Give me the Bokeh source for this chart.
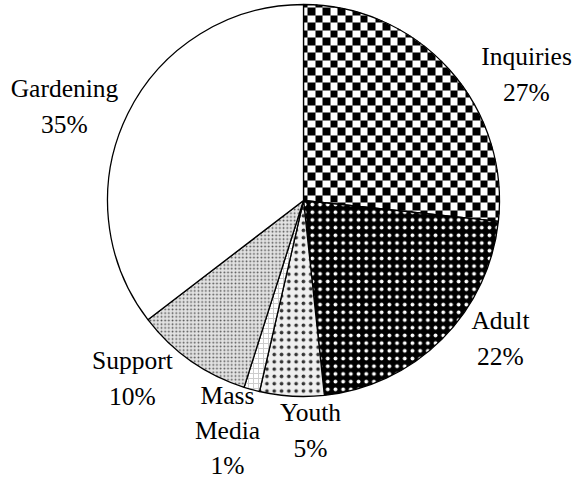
import math
import numpy as np
from bokeh.plotting import figure
from bokeh.models import Range1d, ColumnDataSource
from bokeh.core.properties import value
from bokeh.embed import file_html
from bokeh.resources import INLINE

# ---- data ----
categories = ["Inquiries", "Adult", "Youth", "Mass\nMedia", "Support", "Gardening"]
shares = [26.7, 21.6, 5.3, 1.3, 9.7, 35.4]

# ---- layout / style ----
W, H = 577, 481
CX, CY, R = 303, 281, 196          # data units == pixels (y measured up from bottom)
label_pos = [(526, 407), (500, 143), (310, 51), (227, 51), (132, 103), (64, 375)]
CHECK = 7.5                         # checker square size (px)

styles = [
    dict(fill_color=None),  # checkerboard drawn as image underneath
    dict(fill_color="black", hatch_pattern="dot", hatch_scale=7.7, hatch_color="white", hatch_weight=0.6),
    dict(fill_color="#efefef", hatch_pattern="dot", hatch_scale=7.3, hatch_color="#333333", hatch_weight=0.5),
    dict(fill_color="white", hatch_pattern="cross", hatch_scale=5, hatch_color="#cccccc", hatch_weight=1.0),
    dict(fill_color="#e2e2e2", hatch_pattern="dot", hatch_scale=3.7, hatch_color="#555555", hatch_weight=0.8),
    dict(fill_color="white"),
]

p = figure(width=W, height=H, output_backend="svg", toolbar_location=None,
           x_range=Range1d(0, W), y_range=Range1d(0, H),
           min_border=0, outline_line_color=None)
p.axis.visible = False
p.grid.visible = False
p.background_fill_color = "white"
p.border_fill_color = "white"

total = sum(shares)
angles = []
cum = 0.0
for v in shares:
    a0 = math.pi / 2 - 2 * math.pi * cum / total
    cum += v
    a1 = math.pi / 2 - 2 * math.pi * cum / total
    angles.append((a0, a1))

# checkerboard texture for the first slice, rendered as an RGBA image clipped to the wedge
a0, a1 = angles[0]
x0, y0 = CX - R, CY - R
n = 2 * R
xs = x0 + np.arange(n) + 0.5
ys = y0 + np.arange(n) + 0.5
XX, YY = np.meshgrid(xs, ys)
dx, dy = XX - CX, YY - CY
rr = np.hypot(dx, dy)
th = np.arctan2(dy, dx)
inside = (rr <= R) & (np.mod(a0 - th, 2 * np.pi) <= (a0 - a1))
sx = XX
sy = H - YY
blk = ((np.floor(sx / CHECK) + np.floor(sy / CHECK)) % 2) == 0
img = np.zeros((n, n), dtype=np.uint32)
view = img.view(dtype=np.uint8).reshape((n, n, 4))
col = np.where(blk, 0, 255).astype(np.uint8)
view[:, :, 0] = col
view[:, :, 1] = col
view[:, :, 2] = col
view[:, :, 3] = np.where(inside, 255, 0).astype(np.uint8)
p.image_rgba(image=[img], x=x0, y=y0, dw=n, dh=n)

for (a0, a1), st in zip(angles, styles):
    p.wedge(x=CX, y=CY, radius=R, start_angle=a0, end_angle=a1, direction="clock",
            line_color="black", line_width=1.3, **st)

labels = [f"{c}\n{round(100 * v / total)}%" for c, v in zip(categories, shares)]
src = ColumnDataSource(dict(x=[lp[0] for lp in label_pos], y=[lp[1] for lp in label_pos], t=labels))
p.text(x="x", y="y", text="t", source=src, text_align="center", text_baseline="middle",
       text_font=value("Liberation Serif"), text_font_size="25.5px", text_color="black",
       text_line_height=1.22)

open("out.html", "w").write(file_html(p, INLINE))
